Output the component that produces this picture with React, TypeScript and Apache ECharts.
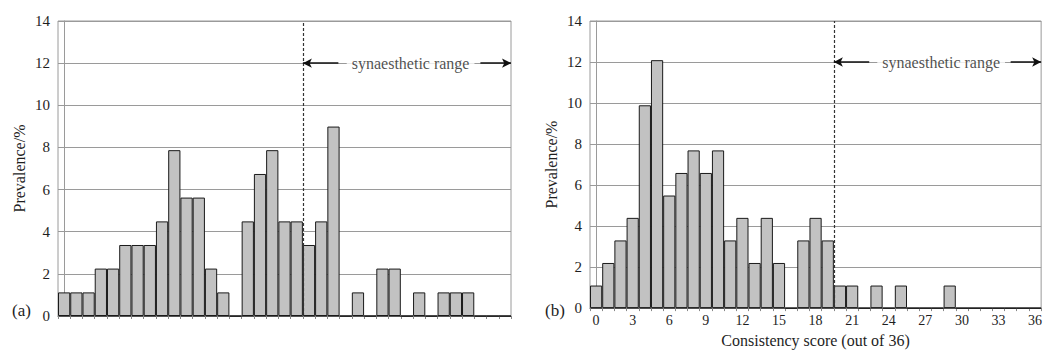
import React, { useEffect, useRef } from "react";
import * as echarts from "echarts";

const scores = [
  "0", "1", "2", "3", "4", "5", "6", "7", "8", "9", "10", "11", "12",
  "13", "14", "15", "16", "17", "18", "19", "20", "21", "22", "23", "24",
  "25", "26", "27", "28", "29", "30", "31", "32", "33", "34", "35", "36",
];

// panel (a): prevalence (%) per score bin
const prevalenceA = [
  1.12, 1.12, 1.12, 2.25, 2.25, 3.37, 3.37, 3.37, 4.49, 7.87, 5.62, 5.62, 2.25,
  1.12, 0, 4.49, 6.74, 7.87, 4.49, 4.49, 3.37, 4.49, 8.99, 0, 1.12, 0, 2.25,
  2.25, 0, 1.12, 0, 1.12, 1.12, 1.12, 0, 0, 0,
];

// panel (b): prevalence (%) per consistency score
const prevalenceB = [
  1.1, 2.2, 3.3, 4.4, 9.89, 12.09, 5.49, 6.59, 7.69, 6.59, 7.69, 3.3, 4.4,
  2.2, 4.4, 2.2, 0, 3.3, 4.4, 3.3, 1.1, 1.1, 0, 1.1, 0, 1.1, 0, 0, 0, 1.1, 0,
  0, 0, 0, 0, 0, 0,
];

const yMin = 0;
const yMax = 14;
const yStep = 2;
const threshold = 19.5; // boundary between score 19 and 20
const rangeEnd = 36.5;
const arrowY = 12;
const leftArrowEnd = 22.4;
const rightArrowStart = 34.0;
const rangeLabelX = 28.3;
const rangeLabel = "synaesthetic range";
const yName = "Prevalence/%";
const xName = "Consistency score (out of 36)";

const FONT = "'Liberation Serif', 'DejaVu Serif', serif";
const TEXT = "#1e1e1e";
const GRID_LINE = "#9a9a9a";

export default function App() {
  const ref = useRef<HTMLDivElement>(null);

  useEffect(() => {
    if (!ref.current) return;
    const chart = echarts.init(ref.current, undefined, { renderer: "svg" });

    const grids = [
      { left: 58, right: 534, top: 21, bottom: 37 },
      { left: 590, right: 1, top: 21, bottom: 37 },
    ];

    const xCat = (gi: number, showLabels: boolean) => ({
      type: "category",
      gridIndex: gi,
      data: scores,
      boundaryGap: true,
      axisLine: { show: true, lineStyle: { color: "#555", width: 1 } },
      axisTick: {
        show: true,
        interval: 0,
        length: 3,
        alignWithLabel: false,
        lineStyle: { color: "#888" },
      },
      axisLabel: {
        show: showLabels,
        interval: (i: number) => i % 3 === 0,
        fontFamily: FONT,
        fontSize: 14,
        color: TEXT,
        margin: 5,
      },
      name: showLabels ? xName : "",
      nameLocation: "middle",
      nameGap: 22,
      nameTextStyle: { fontFamily: FONT, fontSize: 16, color: TEXT },
    });

    const xVal = (gi: number) => ({
      type: "value",
      gridIndex: gi,
      min: -0.5,
      max: rangeEnd,
      show: false,
    });

    const yAx = (gi: number) => ({
      type: "value",
      gridIndex: gi,
      min: yMin,
      max: yMax,
      interval: yStep,
      axisLine: { show: true, lineStyle: { color: GRID_LINE } },
      axisTick: { show: false },
      splitLine: { show: true, lineStyle: { color: GRID_LINE, width: 1 } },
      axisLabel: {
        fontFamily: FONT,
        fontSize: 15,
        color: TEXT,
        margin: 8,
      },
      name: yName,
      nameLocation: "middle",
      nameGap: 31,
      nameRotate: 90,
      nameTextStyle: { fontFamily: FONT, fontSize: 16, color: TEXT },
    });

    const barSeries = (gi: number, data: number[]) => ({
      type: "bar",
      xAxisIndex: gi * 2,
      yAxisIndex: gi,
      data,
      barCategoryGap: "0%",
      itemStyle: { color: "#c2c2c2", borderColor: "#1a1a1a", borderWidth: 1 },
      silent: true,
    });

    const annotSeries = (gi: number) => ({
      type: "scatter",
      xAxisIndex: gi * 2 + 1,
      yAxisIndex: gi,
      data: [[rangeLabelX, arrowY]],
      symbolSize: 1,
      itemStyle: { color: "rgba(0,0,0,0)" },
      silent: true,
      z: 5,
      label: {
        show: true,
        position: "inside",
        formatter: rangeLabel,
        fontFamily: FONT,
        fontSize: 16,
        color: TEXT,
        backgroundColor: "#fff",
        padding: [1, 5],
      },
      markLine: {
        silent: true,
        animation: false,
        label: { show: false },
        symbol: ["none", "none"],
        data: [
          [
            { coord: [threshold, yMin], lineStyle: { type: [3, 2], color: "#333", width: 1.2 } },
            { coord: [threshold, yMax] },
          ],
          [
            { coord: [threshold, arrowY], symbol: "arrow", symbolSize: [7, 9], lineStyle: { type: "solid", color: "#111", width: 1.5 } },
            { coord: [leftArrowEnd, arrowY], symbol: "none" },
          ],
          [
            { coord: [rightArrowStart, arrowY], symbol: "none", lineStyle: { type: "solid", color: "#111", width: 1.5 } },
            { coord: [rangeEnd, arrowY], symbol: "arrow", symbolSize: [7, 9] },
          ],
        ],
      },
    });

    chart.setOption({
      animation: false,
      backgroundColor: "#fff",
      grid: grids.map((g) => ({ ...g, show: true, borderColor: GRID_LINE, borderWidth: 1, backgroundColor: "transparent" })),
      xAxis: [xCat(0, false), xVal(0), xCat(1, true), xVal(1)],
      yAxis: [yAx(0), yAx(1)],
      series: [barSeries(0, prevalenceA), annotSeries(0), barSeries(1, prevalenceB), annotSeries(1)],
      graphic: [
        { type: "text", left: 12, top: 302, style: { text: "(a)", font: `17px ${FONT}`, fill: TEXT } },
        { type: "text", left: 545, top: 302, style: { text: "(b)", font: `17px ${FONT}`, fill: TEXT } },
      ],
    });

    return () => chart.dispose();
  }, []);

  return (
    <div
      ref={ref}
      style={{ position: "absolute", left: 0, top: 0, width: 1045, height: 353 }}
    />
  );
}
